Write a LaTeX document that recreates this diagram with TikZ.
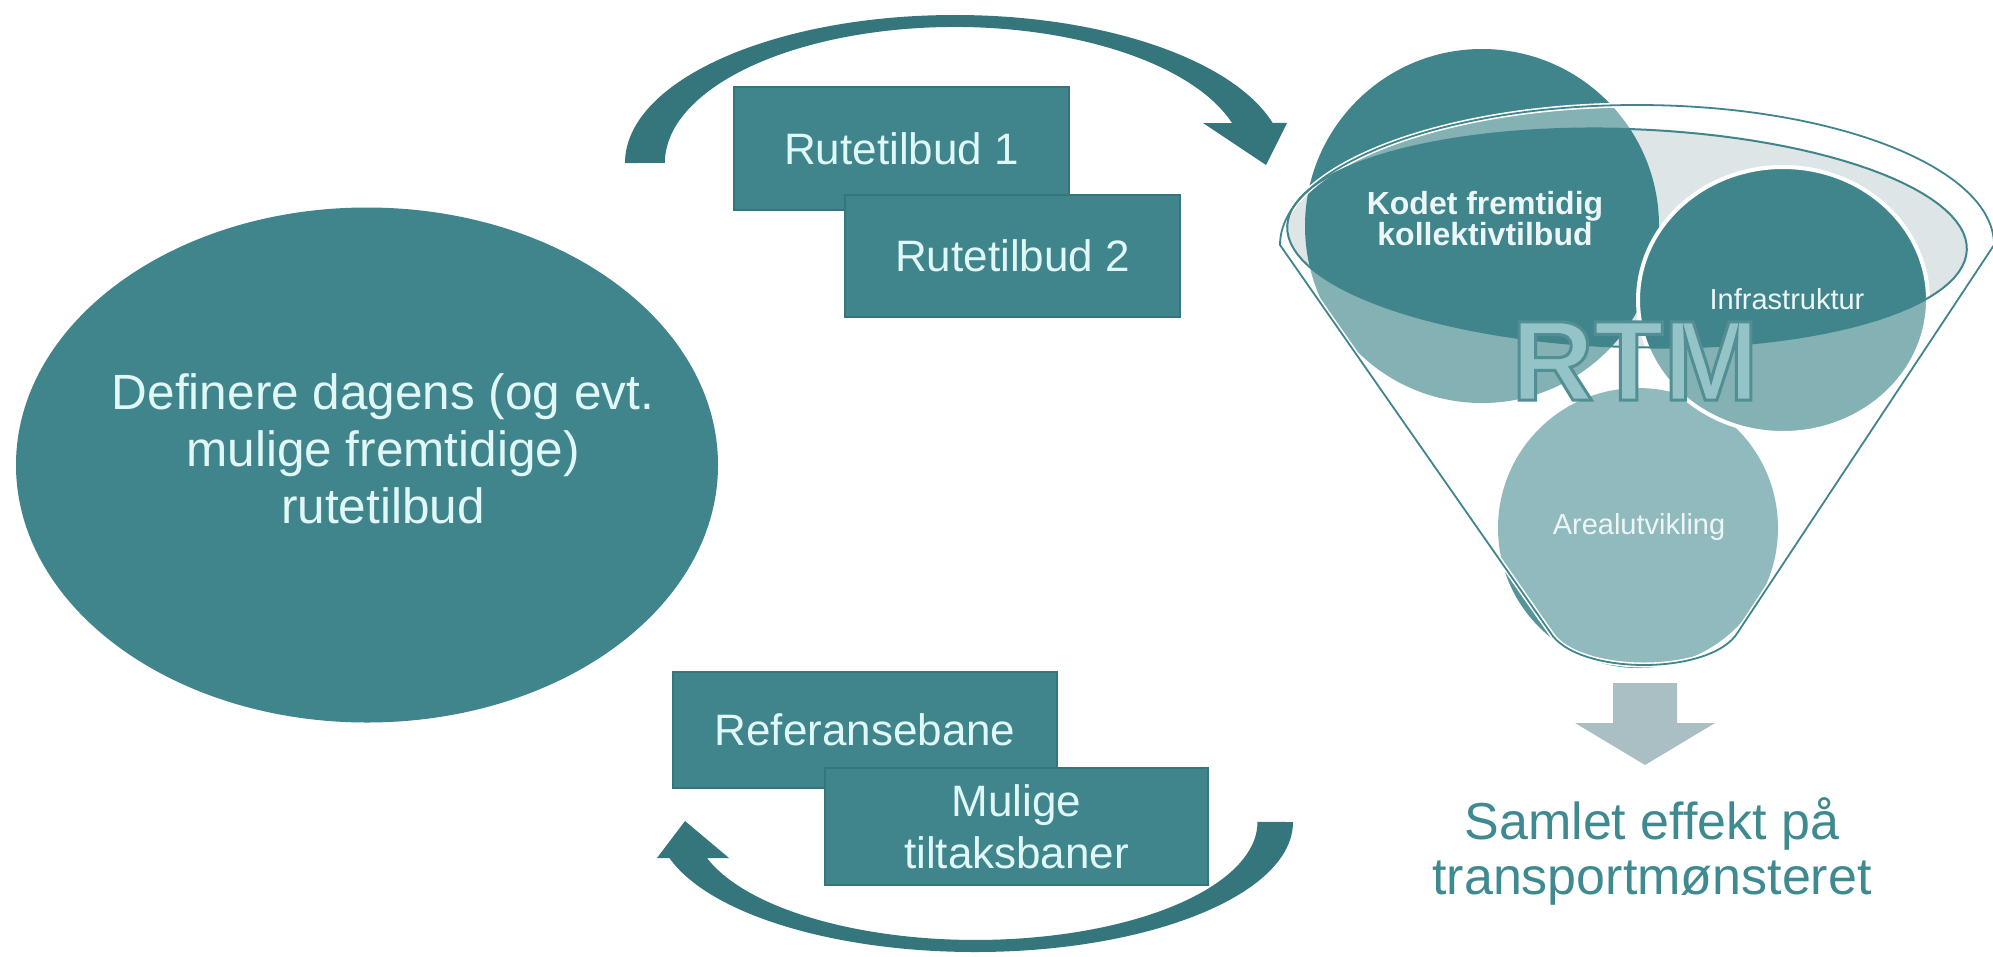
\documentclass[tikz,border=0pt]{standalone}
\usepackage{fontspec}
\setmainfont{Liberation Sans}
\usetikzlibrary{shapes.geometric}
\definecolor{teal1}{RGB}{64,133,139}
\definecolor{tealdark}{RGB}{52,118,124}
\definecolor{boxtext}{RGB}{224,247,247}
\definecolor{arrowc}{RGB}{52,118,124}
\definecolor{mouth}{RGB}{221,229,230}
\definecolor{arealc}{RGB}{84,148,154}
\definecolor{rtmfill}{RGB}{148,195,200}
\definecolor{grayarrow}{RGB}{169,191,195}
\definecolor{samlet}{RGB}{62,138,144}
\definecolor{lighttext}{RGB}{236,246,246}
\newcommand\outlinedword[1]{%
  \special{pdf:literal direct 2 Tr 3 w 0.32 0.56 0.58 RG}#1\special{pdf:literal direct 0 Tr}}
\begin{document}
\begin{tikzpicture}[x=1pt,y=-1pt,
  stepbox/.style={draw=tealdark, line width=1.2, fill=teal1, text=boxtext, align=center,
    font=\fontsize{44}{52}\selectfont, inner sep=0pt, outer sep=0pt},
  blockarrow/.style={fill=arrowc},
  rim/.style={draw=teal1, line width=1.8},
  innerrim/.style={draw=teal1, line width=2},
  circlabel/.style={text=lighttext, inner sep=0pt, align=center}]
\useasboundingbox (0,0) rectangle (1993,956);
\fill[white] (0,0) rectangle (1993,956);

% ---------- left big ellipse ----------
\node[ellipse, fill=teal1, minimum width=702pt, minimum height=515pt, inner sep=0pt] (def) at (367,465) {};
\node[text=boxtext, align=center, inner sep=0pt, font=\fontsize{49.5}{57}\selectfont] (deftext) at (383,449)
  {Definere dagens (og evt.\\mulige fremtidige)\\rutetilbud};

% ---------- top curved arrow ----------
\fill[blockarrow] (625,163) arc[start angle=180, end angle=344.3, x radius=330, y radius=148]
  -- (1287,123) -- (1266,165) -- (1203,123) -- (1232,123)
  arc[start angle=342.9, end angle=180, x radius=290, y radius=136] -- cycle;

% ---------- bottom curved arrow ----------
\fill[blockarrow] (1293,822) arc[start angle=0, end angle=163.9, x radius=318, y radius=130]
  -- (657,858) -- (685,821) -- (729,858) -- (707,858)
  arc[start angle=162.2, end angle=0, x radius=282, y radius=118] -- cycle;

% ---------- boxes ----------
\node[stepbox, minimum width=335pt, minimum height=123pt] (r1) at (901.5,148.5) {Rutetilbud 1};
\node[stepbox, minimum width=335pt, minimum height=122pt] (r2) at (1012.5,256) {Rutetilbud 2};
\node[stepbox, minimum width=384pt, minimum height=116pt] (ref) at (865,730) {Referansebane};
\node[stepbox, minimum width=383pt, minimum height=117pt] (mul) at (1016.5,826.5) {Mulige\\tiltaksbaner};

% ---------- funnel ----------
% mouth
\fill[mouth] plot[domain=0:360, samples=121, variable=\t]
  ({1627 + 340*cos(\t)*cos(2) - 109*sin(\t)*sin(2)},
   {238 + 340*cos(\t)*sin(2) + 109*sin(\t)*cos(2)}) -- cycle;
% circles
\fill[teal1] (1482,226) circle[radius=177];
\fill[arealc] (1638,528) circle[radius=140];
\draw[white, line width=4, fill=teal1] (1783,300) ellipse[x radius=145, y radius=133];
% translucent funnel body over the circles (mouth left clear)
\fill[white, opacity=0.36, even odd rule]
  (1280,245) arc[start angle=180, end angle=360, x radius=357, y radius=140]
  -- (1738,632) .. controls (1712,676) and (1576,676) .. (1550,632) -- cycle
  plot[domain=0:360, samples=121, variable=\t]
  ({1627 + 340*cos(\t)*cos(2) - 109*sin(\t)*sin(2)},
   {238 + 340*cos(\t)*sin(2) + 109*sin(\t)*cos(2)}) -- cycle;
% outlines
\draw[white, line width=5]
  (1280,245) arc[start angle=180, end angle=360, x radius=357, y radius=140]
  -- (1738,632) .. controls (1712,676) and (1576,676) .. (1550,632) -- cycle;
\draw[rim]
  (1280,245) arc[start angle=180, end angle=360, x radius=357, y radius=140]
  -- (1738,632) .. controls (1712,676) and (1576,676) .. (1550,632) -- cycle;
\draw[innerrim] plot[domain=0:360, samples=121, variable=\t]
  ({1627 + 340*cos(\t)*cos(2) - 109*sin(\t)*sin(2)},
   {238 + 340*cos(\t)*sin(2) + 109*sin(\t)*cos(2)}) -- cycle;

% circle labels
\node[circlabel, font=\bfseries\fontsize{32}{31}\selectfont] (kodet) at (1485,219)
  {Kodet fremtidig\\kollektivtilbud};
\node[circlabel, font=\fontsize{29}{30}\selectfont] (infra) at (1787,299) {Infrastruktur};
\node[circlabel, font=\fontsize{29}{30}\selectfont] (areal) at (1639,527) {Arealutvikling};

% gray down arrow
\fill[grayarrow] (1613,683) -- (1677,683) -- (1677,723) -- (1715,723) -- (1645,765)
  -- (1575,723) -- (1613,723) -- cycle;

% result text
\node[text=samlet, align=center, font=\fontsize{52}{55}\selectfont] (samlet) at (1652,851)
  {Samlet effekt på\\transportmønsteret};

% RTM (outlined letters)
\node[inner sep=0pt, text=rtmfill, font=\bfseries\fontsize{114}{114}\selectfont] (rtm) at (1635,361) {\outlinedword{RTM}};
\end{tikzpicture}
\end{document}
